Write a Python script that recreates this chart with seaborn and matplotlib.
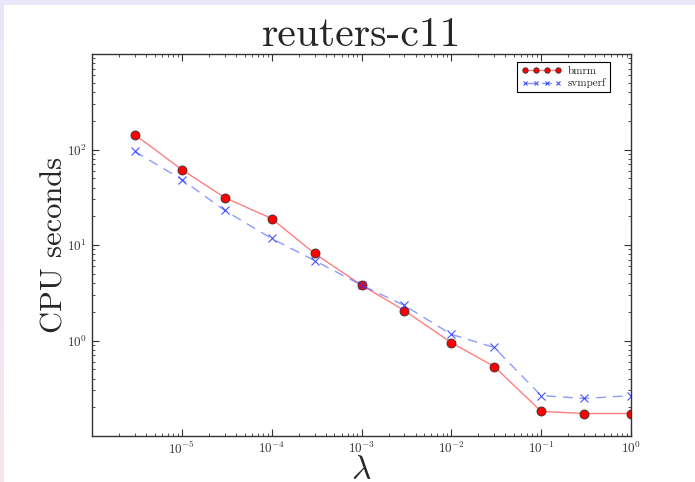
import numpy as np
import pandas as pd
import matplotlib
matplotlib.use("Agg")
import matplotlib.pyplot as plt
import seaborn as sns

lam = [3e-6, 1e-5, 3e-5, 1e-4, 3e-4, 1e-3, 3e-3, 1e-2, 3e-2, 1e-1, 3e-1, 1.0]
bmrm = [143, 61.5, 31.4, 18.9, 8.15, 3.8, 2.06, 0.95, 0.534, 0.181, 0.172, 0.172]
svmperf = [95.3, 48.5, 23.0, 11.7, 6.88, 3.8, 2.33, 1.16, 0.845, 0.265, 0.247, 0.265]
xticks = [1e-5, 1e-4, 1e-3, 1e-2, 1e-1, 1e0]
yticks = [1e0, 1e1, 1e2]

sns.set_style("ticks")
plt.rcParams.update({
    "font.family": ["cmr10", "DejaVu Serif"],
    "mathtext.fontset": "cm",
    "axes.formatter.use_mathtext": True,
    "axes.unicode_minus": False,
    "xtick.direction": "in",
    "ytick.direction": "in",
    "xtick.top": True,
    "ytick.right": True,
    "xtick.major.size": 5,
    "ytick.major.size": 5,
    "xtick.minor.size": 2.5,
    "ytick.minor.size": 2.5,
    "xtick.minor.visible": True,
    "ytick.minor.visible": True,
    "axes.edgecolor": "#333333",
    "axes.linewidth": 1.0,
})

fig = plt.figure(figsize=(6.95, 4.82), dpi=100)
fig.patch.set_facecolor("white")

# slide border strips
top = fig.add_axes([0, 1 - 5 / 482, 1, 5 / 482])
top.set_axis_off()
top.add_patch(plt.Rectangle((0, 0), 1, 1, color="#e8e8fa", transform=top.transAxes))
left = fig.add_axes([0, 0, 4 / 695, 1 - 5 / 482])
grad = np.linspace(0, 1, 100)
cols = np.zeros((100, 1, 3))
c_top = np.array([232, 232, 250]) / 255
c_bot = np.array([248, 228, 238]) / 255
for i, g in enumerate(grad):
    cols[i, 0] = c_top * (1 - g) + c_bot * g
left.imshow(cols, aspect="auto", extent=[0, 1, 0, 1])
left.set_axis_off()

ax = fig.add_axes([92 / 695, (482 - 436) / 482, (631 - 92) / 695, (436 - 54) / 482])

df = pd.DataFrame({"lam": lam, "bmrm": bmrm, "svmperf": svmperf})
sns.lineplot(data=df, x="lam", y="bmrm", ax=ax, color=(1, 0, 0, 0.5), lw=1.0,
             marker="o", markersize=6.5, markerfacecolor="red",
             markeredgecolor="#333333", markeredgewidth=0.6, label="bmrm")
sns.lineplot(data=df, x="lam", y="svmperf", ax=ax, color=(0.25, 0.35, 1, 0.6), lw=1.0,
             linestyle=(0, (7, 5)), marker="x", markersize=6, markeredgecolor=(0.15, 0.2, 1, 0.85),
             markeredgewidth=0.8, label="svmperf")

ax.set_xscale("log")
ax.set_yscale("log")
ax.set_xlim(1e-6, 1)
ax.set_ylim(0.1, 1000)
ax.set_xticks(xticks)
ax.set_yticks(yticks)
ax.tick_params(which="both", labelsize=9.5, colors="#333333", labelcolor="#333333")

ax.set_title("reuters-c11", fontsize=30, pad=4)
ax.set_xlabel(r"$\lambda$", fontsize=24, labelpad=-1)
ax.set_ylabel("CPU seconds", fontsize=22, labelpad=-1)

leg = ax.legend(loc="upper right", numpoints=4, fontsize=8, fancybox=False,
                edgecolor="black", framealpha=1, handlelength=3.6, markerscale=0.6,
                borderpad=0.35, labelspacing=0.25, handletextpad=0.6,
                borderaxespad=0, bbox_to_anchor=(610 / 539 - 92 / 539, 1 - 8 / 382))
leg.get_frame().set_linewidth(0.8)

fig.savefig("out.png", dpi=100)
